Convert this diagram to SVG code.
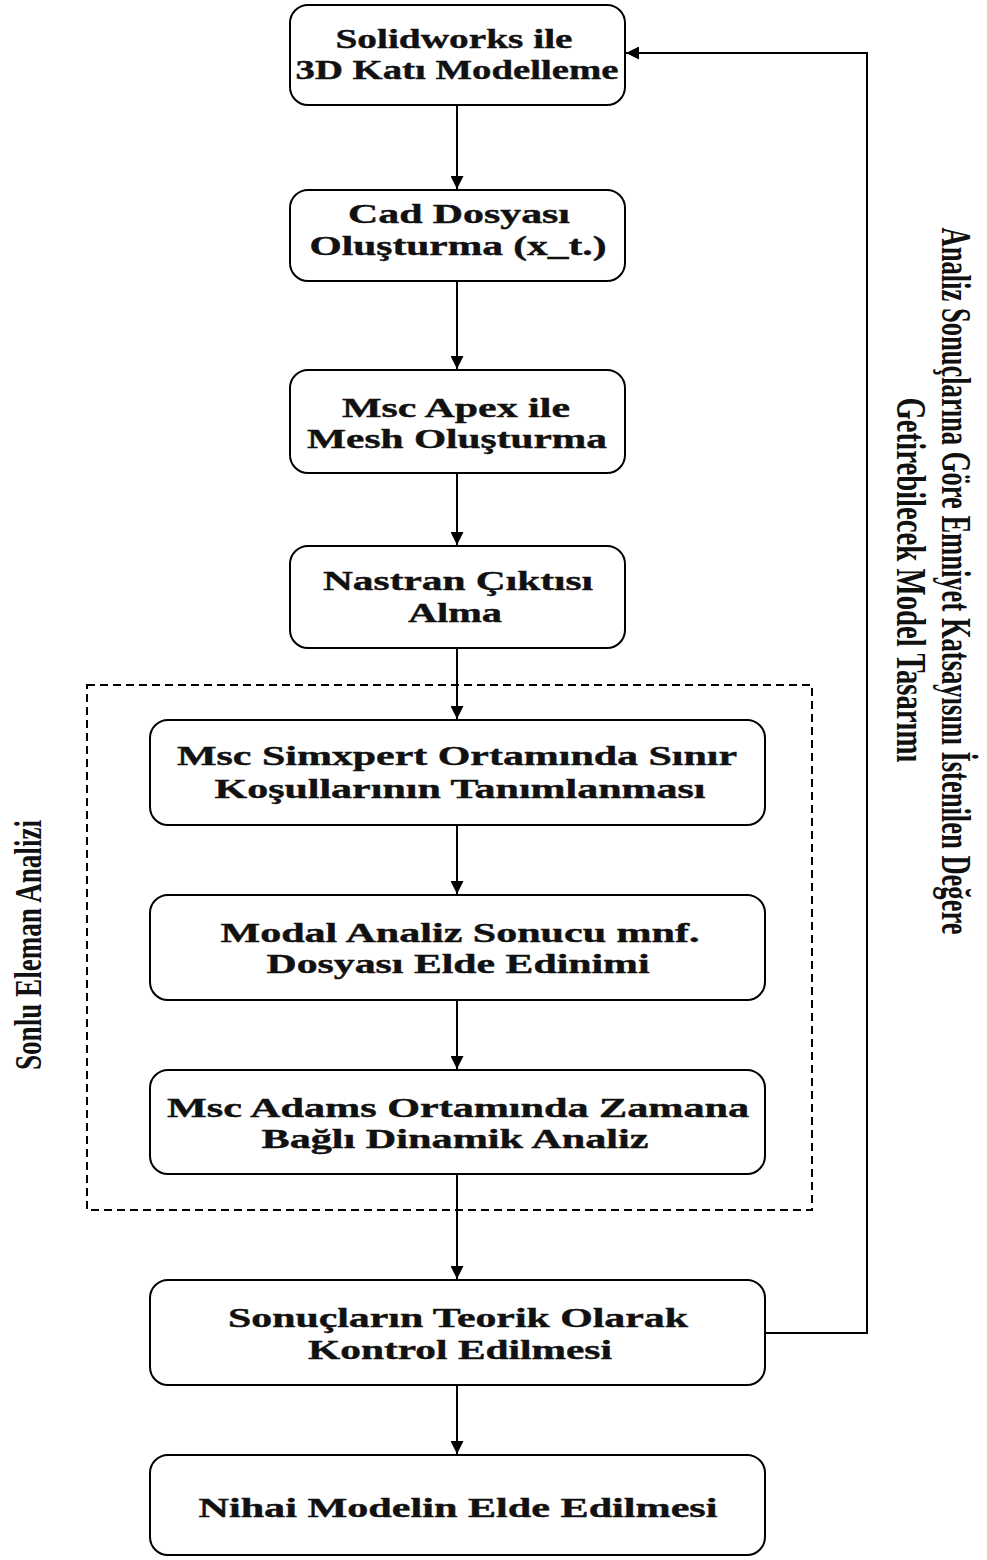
<svg xmlns="http://www.w3.org/2000/svg" width="987" height="1560" viewBox="0 0 987 1560">
<style>
.box{fill:#fff;stroke:#000;stroke-width:2}
.t{font-family:"Liberation Serif","Times New Roman",serif;font-weight:bold;font-size:27px;fill:#111;stroke:#111;stroke-width:0.4;text-anchor:middle}
.r{font-family:"Liberation Serif","Times New Roman",serif;font-weight:bold;fill:#111;text-anchor:middle}
.c{fill:none;stroke:#000;stroke-width:2}
</style>
<defs>
<marker id="ah" viewBox="0 0 10 10" refX="10" refY="5" markerWidth="13" markerHeight="13" markerUnits="userSpaceOnUse" orient="auto">
<path d="M0,0 L10,5 L0,10 z" fill="#000"/>
</marker>
</defs>
<rect width="987" height="1560" fill="#fff"/>
<g id="group-fea">
<rect x="87" y="685" width="725" height="525" fill="none" stroke="#000" stroke-width="2" stroke-dasharray="8,5"/>
<text class="r" font-size="38" transform="translate(41,945) rotate(-90)" textLength="250" lengthAdjust="spacingAndGlyphs">Sonlu Eleman Analizi</text>
</g>
<g id="connectors">
<path class="c" d="M457,105 V189" marker-end="url(#ah)"/>
<path class="c" d="M457,281 V369" marker-end="url(#ah)"/>
<path class="c" d="M457,473 V545" marker-end="url(#ah)"/>
<path class="c" d="M457,648 V719" marker-end="url(#ah)"/>
<path class="c" d="M457,825 V894" marker-end="url(#ah)"/>
<path class="c" d="M457,1000 V1069" marker-end="url(#ah)"/>
<path class="c" d="M457,1174 V1279" marker-end="url(#ah)"/>
<path class="c" d="M457,1385 V1454" marker-end="url(#ah)"/>
<path class="c" d="M765,1333 H867 V53 H626" marker-end="url(#ah)"/>
<text class="r" font-size="42" transform="translate(942,581) rotate(90)" textLength="707" lengthAdjust="spacingAndGlyphs">Analiz Sonuçlarına Göre Emniyet Katsayısını İstenilen Değere</text>
<text class="r" font-size="42" transform="translate(897,580) rotate(90)" textLength="365" lengthAdjust="spacingAndGlyphs">Getirebilecek Model Tasarımı</text>
</g>
<g id="n1">
<rect class="box" x="290" y="5" width="335" height="100" rx="18"/>
<text class="t" x="454" y="48" textLength="237" lengthAdjust="spacingAndGlyphs">Solidworks ile</text>
<text class="t" x="457" y="79" textLength="323" lengthAdjust="spacingAndGlyphs">3D Katı Modelleme</text>
</g>
<g id="n2">
<rect class="box" x="290" y="190" width="335" height="91" rx="18"/>
<text class="t" x="459" y="223" textLength="222" lengthAdjust="spacingAndGlyphs">Cad Dosyası</text>
<text class="t" x="458" y="255" textLength="297" lengthAdjust="spacingAndGlyphs">Oluşturma (x_t.)</text>
</g>
<g id="n3">
<rect class="box" x="290" y="370" width="335" height="103" rx="18"/>
<text class="t" x="456" y="417" textLength="228" lengthAdjust="spacingAndGlyphs">Msc Apex ile</text>
<text class="t" x="457" y="448" textLength="300" lengthAdjust="spacingAndGlyphs">Mesh Oluşturma</text>
</g>
<g id="n4">
<rect class="box" x="290" y="546" width="335" height="102" rx="18"/>
<text class="t" x="458" y="590" textLength="270" lengthAdjust="spacingAndGlyphs">Nastran Çıktısı</text>
<text class="t" x="455" y="622" textLength="94" lengthAdjust="spacingAndGlyphs">Alma</text>
</g>
<g id="n5">
<rect class="box" x="150" y="720" width="615" height="105" rx="18"/>
<text class="t" x="457" y="765" textLength="560" lengthAdjust="spacingAndGlyphs">Msc Simxpert Ortamında Sınır</text>
<text class="t" x="460" y="798" textLength="491" lengthAdjust="spacingAndGlyphs">Koşullarının Tanımlanması</text>
</g>
<g id="n6">
<rect class="box" x="150" y="895" width="615" height="105" rx="18"/>
<text class="t" x="460" y="942" textLength="479" lengthAdjust="spacingAndGlyphs">Modal Analiz Sonucu mnf.</text>
<text class="t" x="458" y="973" textLength="383" lengthAdjust="spacingAndGlyphs">Dosyası Elde Edinimi</text>
</g>
<g id="n7">
<rect class="box" x="150" y="1070" width="615" height="104" rx="18"/>
<text class="t" x="458" y="1117" textLength="582" lengthAdjust="spacingAndGlyphs">Msc Adams Ortamında Zamana</text>
<text class="t" x="455" y="1148" textLength="387" lengthAdjust="spacingAndGlyphs">Bağlı Dinamik Analiz</text>
</g>
<g id="n8">
<rect class="box" x="150" y="1280" width="615" height="105" rx="18"/>
<text class="t" x="458" y="1327" textLength="460" lengthAdjust="spacingAndGlyphs">Sonuçların Teorik Olarak</text>
<text class="t" x="460" y="1359" textLength="304" lengthAdjust="spacingAndGlyphs">Kontrol Edilmesi</text>
</g>
<g id="n9">
<rect class="box" x="150" y="1455" width="615" height="100" rx="18"/>
<text class="t" x="458" y="1517" textLength="519" lengthAdjust="spacingAndGlyphs">Nihai Modelin Elde Edilmesi</text>
</g>
</svg>
